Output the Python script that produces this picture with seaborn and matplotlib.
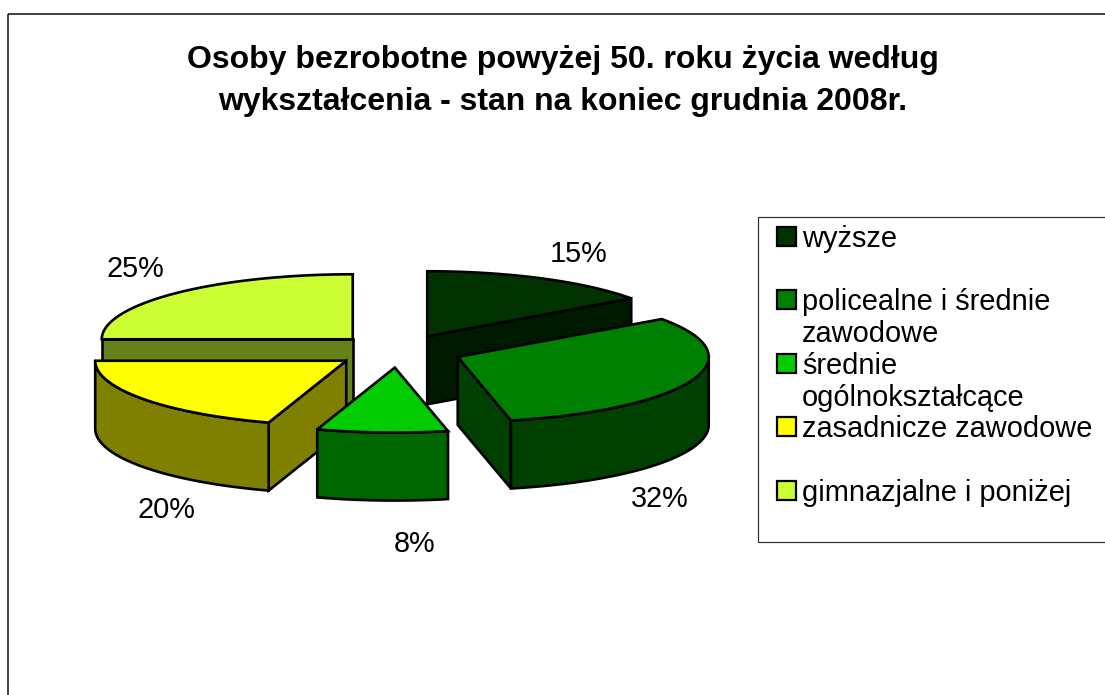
import numpy as np
import seaborn as sns
import matplotlib.pyplot as plt
from matplotlib.patches import Polygon, Rectangle

sns.set_theme(style="white")
plt.rcParams['font.family'] = ['Liberation Sans', 'DejaVu Sans']

# Data
title = 'Osoby bezrobotne powyżej 50. roku życia według\nwykształcenia - stan na koniec grudnia 2008r.'
categories = ['wyższe', 'policealne i średnie\nzawodowe', 'średnie\nogólnokształcące',
              'zasadnicze zawodowe', 'gimnazjalne i poniżej']
shares = [15.1, 31.5, 8.4, 20.0, 25.0]
top_colors = ['#003300', '#008000', '#00CC00', '#FFFF00', '#CCFF33']

# Pie geometry, in image pixels
CX, CY = 398, 351
RX, RY = 251, 65
DEPTH = 68
EXPLODE = 0.255
LW = 1.9
palette = sns.color_palette(top_colors)
label_pos = [(579, 254), (660, 499), (415, 544), (166, 510), (135, 269)]

fig = plt.figure(figsize=(11.05, 6.95), dpi=100)
ax = fig.add_axes([0, 0, 1, 1])
ax.set_xlim(0, 1105)
ax.set_ylim(695, 0)
ax.axis('off')

# Chart frame runs off the right and bottom of the image
ax.add_patch(Rectangle((8, 13.5), 1200, 800, fill=False, ec='#222222', lw=1.2))


def rim(x0, y0, angles):
    return np.column_stack([x0 + RX * np.sin(angles), y0 - RY * np.cos(angles)])


def draw_slice(start, end, color):
    mid = (start + end) / 2
    x0 = CX + EXPLODE * RX * np.sin(mid)
    y0 = CY - EXPLODE * RY * np.cos(mid)
    side = tuple(c * 0.5 for c in color)
    down = np.array([0, DEPTH])
    apex = np.array([x0, y0])

    # cut walls that face the viewer
    m = np.array([np.sin(mid), -np.cos(mid)])
    for t in (start, end):
        d = np.array([np.sin(t), -np.cos(t)])
        n = np.array([-d[1], d[0]])
        if n @ m > 0:
            n = -n
        if n[1] > 1e-6:
            p = rim(x0, y0, np.array([t]))[0]
            ax.add_patch(Polygon([apex, p, p + down, apex + down], fc=side, ec='black',
                                 lw=LW, zorder=2))

    # outer wall, front half only
    a0, a1 = max(start, np.pi / 2), min(end, 3 * np.pi / 2)
    if a1 > a0:
        arc = rim(x0, y0, np.linspace(a0, a1, 80))
        ax.add_patch(Polygon(np.vstack([arc, arc[::-1] + down]), fc=side, ec='black',
                             lw=LW, zorder=2))

    # top face
    arc = rim(x0, y0, np.linspace(start, end, 120))
    ax.add_patch(Polygon(np.vstack([apex, arc]), fc=color, ec='black', lw=LW, zorder=2))


# Paint back to front
edges = np.cumsum([0] + shares) / sum(shares) * 2 * np.pi
mids = (edges[:-1] + edges[1:]) / 2
order = sorted(range(len(shares)), key=lambda i: -np.cos(mids[i]))
for i in order:
    draw_slice(edges[i], edges[i + 1], palette[i])

for share, (x, y) in zip(shares, label_pos):
    ax.text(x, y, f'{share:.0f}%', ha='center', va='center', fontsize=20.8, color='black')

ax.text(563, 81, title, ha='center', va='center', fontsize=23, fontweight='bold',
        color='black', linespacing=1.55)

# Legend box, also cut by the right edge
ax.add_patch(Rectangle((757.5, 217), 500, 325, fill=False, ec='#333333', lw=0.9))
line_h = 31.7
for i, name in enumerate(categories):
    y = 237 + i * 2 * line_h
    ax.add_patch(Rectangle((777, y - 10), 19, 19, fc=palette[i], ec='black', lw=1.6))
    for j, part in enumerate(name.split('\n')):
        ax.text(802, y + j * line_h + 2, part, ha='left', va='center', fontsize=20.9,
                color='black')

plt.savefig('out.png', dpi=100)
